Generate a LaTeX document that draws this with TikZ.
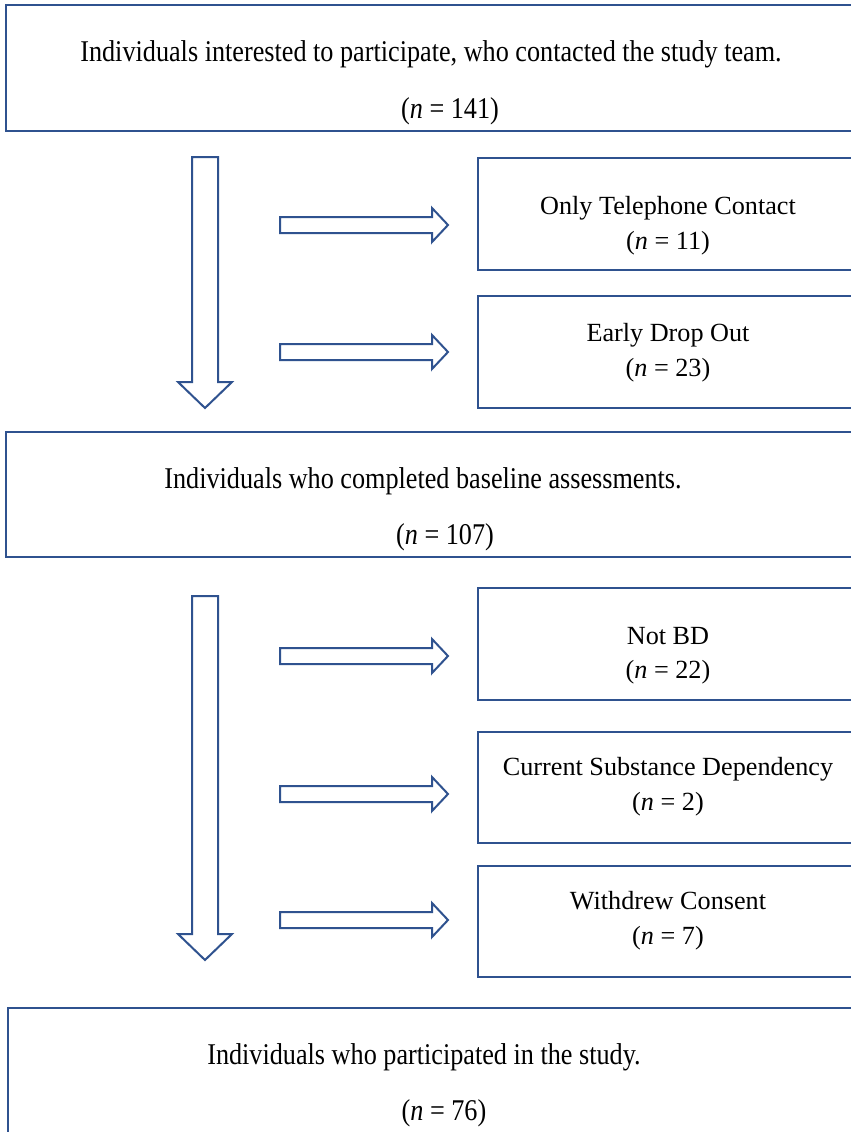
\documentclass[tikz,border=0pt]{standalone}
\usepackage{fontspec}
\setmainfont{Liberation Serif}
\definecolor{boxblue}{RGB}{47,82,143}
\tikzset{
  px/.style={x=0.5pt,y=-0.5pt},
  frame/.style={draw=boxblue,line width=1pt,fill=white},
  blockarrow/.style={draw=boxblue,line width=1pt,fill=white,line join=miter},
  txt/.style={font=\fontsize{13.1}{15}\selectfont,inner sep=0pt,anchor=base},
  bigtxt/.style={txt,yscale=1.15},
}
\newcommand{\downarrowshape}[2]{% top y, tip y
  \draw[blockarrow] (192,#1) -- (218,#1) -- (218,{#2-26}) -- (232,{#2-26}) -- (205,#2) -- (178,{#2-26}) -- (192,{#2-26}) -- cycle;}
\newcommand{\rightarrowshape}[1]{% center y
  \draw[blockarrow] (280,{#1-8}) -- (432,{#1-8}) -- (432,{#1-17}) -- (448,#1) -- (432,{#1+17}) -- (432,{#1+8}) -- (280,{#1+8}) -- cycle;}
\begin{document}
\begin{tikzpicture}[px]
\clip (0,0) rectangle (851,1132);
\fill[white] (0,0) rectangle (851,1132);
% main boxes
\draw[frame] (6,5) rectangle (857,131);
\node[bigtxt] (t1) at (431,61) {Individuals interested to participate, who contacted the study team.};
\node[bigtxt] (t1n) at (450,118) {(\textit{n} = 141)};
\draw[frame] (6,432) rectangle (857,557);
\node[bigtxt] (t2) at (423,488) {Individuals who completed baseline assessments.};
\node[bigtxt] (t2n) at (445,544) {(\textit{n} = 107)};
\draw[frame] (8,1008) rectangle (857,1140);
\node[bigtxt] (t3) at (424,1064) {Individuals who participated in the study.};
\node[bigtxt] (t3n) at (444,1120) {(\textit{n} = 76)};
% side boxes
\draw[frame] (478,158) rectangle (858,270);
\node[txt] (s1) at (668,214) {Only Telephone Contact};
\node[txt] (s1n) at (668,249) {(\textit{n} = 11)};
\draw[frame] (478,296) rectangle (858,408);
\node[txt] (s2) at (668,341) {Early Drop Out};
\node[txt] (s2n) at (668,376) {(\textit{n} = 23)};
\draw[frame] (478,588) rectangle (858,700);
\node[txt] (s3) at (668,644) {Not BD};
\node[txt] (s3n) at (668,678) {(\textit{n} = 22)};
\draw[frame] (478,732) rectangle (858,843);
\node[txt] (s4) at (668,775) {Current Substance Dependency};
\node[txt] (s4n) at (668,810) {(\textit{n} = 2)};
\draw[frame] (478,866) rectangle (858,977);
\node[txt] (s5) at (668,909) {Withdrew Consent};
\node[txt] (s5n) at (668,944) {(\textit{n} = 7)};
% arrows
\downarrowshape{157}{408}
\downarrowshape{596}{960}
\rightarrowshape{225}
\rightarrowshape{352}
\rightarrowshape{656}
\rightarrowshape{794}
\rightarrowshape{920}
\end{tikzpicture}
\end{document}
